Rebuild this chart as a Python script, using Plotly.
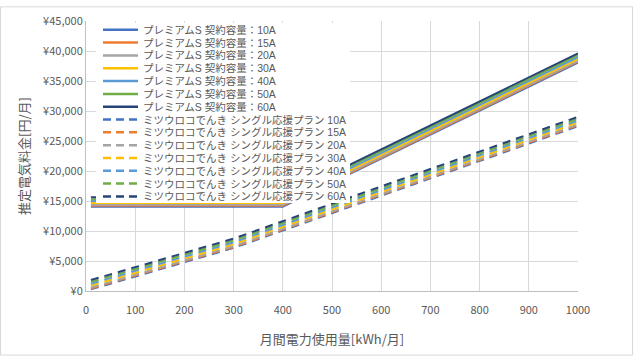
import plotly.graph_objects as go

# ---- data ----
usage_kwh = [10, 100, 200, 300, 400, 500, 600, 700, 800, 900, 1000]

premium_labels = ["プレミアムS 契約容量：10A", "プレミアムS 契約容量：15A", "プレミアムS 契約容量：20A",
                  "プレミアムS 契約容量：30A", "プレミアムS 契約容量：40A", "プレミアムS 契約容量：50A",
                  "プレミアムS 契約容量：60A"]
premium_10A = [14050, 14050, 14050, 14050, 14050, 18050, 22050, 26050, 30050, 34050, 38050]
premium_15A = [14206, 14206, 14206, 14206, 14206, 18206, 22206, 26206, 30206, 34206, 38206]
premium_20A = [14362, 14362, 14362, 14362, 14362, 18362, 22362, 26362, 30362, 34362, 38362]
premium_30A = [14674, 14674, 14674, 14674, 14674, 18674, 22674, 26674, 30674, 34674, 38674]
premium_40A = [14985, 14985, 14985, 14985, 14985, 18985, 22985, 26985, 30985, 34985, 38985]
premium_50A = [15297, 15297, 15297, 15297, 15297, 19297, 23297, 27297, 31297, 35297, 39297]
premium_60A = [15609, 15609, 15609, 15609, 15609, 19609, 23609, 27609, 31609, 35609, 39609]

single_labels = ["ミツウロコでんき シングル応援プラン 10A", "ミツウロコでんき シングル応援プラン 15A",
                 "ミツウロコでんき シングル応援プラン 20A", "ミツウロコでんき シングル応援プラン 30A",
                 "ミツウロコでんき シングル応援プラン 40A", "ミツウロコでんき シングル応援プラン 50A",
                 "ミツウロコでんき シングル応援プラン 60A"]
single_10A = [270, 2412, 4792, 7172, 10072, 12972, 15872, 18772, 21672, 24572, 27472]
single_15A = [426, 2568, 4948, 7328, 10228, 13128, 16028, 18928, 21828, 24728, 27628]
single_20A = [582, 2724, 5104, 7484, 10384, 13284, 16184, 19084, 21984, 24884, 27784]
single_30A = [894, 3036, 5416, 7796, 10696, 13596, 16496, 19396, 22296, 25196, 28096]
single_40A = [1205, 3347, 5727, 8107, 11007, 13907, 16807, 19707, 22607, 25507, 28407]
single_50A = [1517, 3659, 6039, 8419, 11319, 14219, 17119, 20019, 22919, 25819, 28719]
single_60A = [1829, 3971, 6351, 8731, 11631, 14531, 17431, 20331, 23231, 26131, 29031]

y_ticks = [0, 5000, 10000, 15000, 20000, 25000, 30000, 35000, 40000, 45000]
y_tick_labels = ["¥0", "¥5,000", "¥10,000", "¥15,000", "¥20,000", "¥25,000", "¥30,000",
                 "¥35,000", "¥40,000", "¥45,000"]
x_ticks = [0, 100, 200, 300, 400, 500, 600, 700, 800, 900, 1000]

colors = ["#4472C4", "#ED7D31", "#A5A5A5", "#FFC000", "#5B9BD5", "#70AD47", "#264478"]

premium_series = [premium_10A, premium_15A, premium_20A, premium_30A, premium_40A, premium_50A, premium_60A]
single_series = [single_10A, single_15A, single_20A, single_30A, single_40A, single_50A, single_60A]

FONT = "Noto Sans CJK JP, Noto Sans, sans-serif"
LEG_FONT = "Liberation Sans, Noto Sans CJK JP, sans-serif"
TXT = "#595959"
GRID = "#D9D9D9"

W, H = 633, 357
L, R, T, B = 86, 578, 15, 291  # plot area in pixels

def px2x(px):
    return (px - L) / (R - L)

def py2y(py):
    return (B - py) / (B - T)

fig = go.Figure()
for name, ys, c in zip(premium_labels, premium_series, colors):
    fig.add_trace(go.Scatter(x=usage_kwh, y=ys, name=name, mode="lines",
                             line=dict(color=c, width=2)))
for name, ys, c in zip(single_labels, single_series, colors):
    fig.add_trace(go.Scatter(x=usage_kwh, y=ys, name=name, mode="lines",
                             line=dict(color=c, width=2, dash="8px,6px")))

shapes = []
annotations = []
# chart border
shapes.append(dict(type="rect", xref="paper", yref="paper",
                   x0=px2x(0.5), x1=px2x(632.5), y0=py2y(356.5), y1=py2y(0.5),
                   line=dict(color="#D9D9D9", width=1), fillcolor="rgba(0,0,0,0)", layer="below"))
# legend box (white, covering the data)
shapes.append(dict(type="rect", xref="paper", yref="paper",
                   x0=px2x(96), x1=px2x(350), y0=py2y(201), y1=py2y(17),
                   line=dict(width=0), fillcolor="white", layer="above"))
labels = premium_labels + single_labels
for i, lab in enumerate(labels):
    yy = 24 + 13.1 * i
    c = colors[i % 7]
    dash = "solid" if i < 7 else "8px,5px"
    shapes.append(dict(type="line", xref="paper", yref="paper",
                       x0=px2x(103), x1=px2x(138), y0=py2y(yy), y1=py2y(yy),
                       line=dict(color=c, width=2.5, dash=dash), layer="above"))
    annotations.append(dict(text=lab, xref="paper", yref="paper", x=px2x(142), y=py2y(yy),
                            xanchor="left", yanchor="middle", showarrow=False, borderpad=0,
                            font=dict(family=LEG_FONT, size=10.5, color=TXT)))

fig.update_layout(
    width=W, height=H,
    margin=dict(l=L, r=W - R, t=T, b=H - B, pad=0),
    paper_bgcolor="white", plot_bgcolor="white",
    showlegend=False,
    font=dict(family=FONT, size=11, color=TXT),
    shapes=shapes, annotations=annotations,
    xaxis=dict(range=[0, 1000], tickvals=x_ticks, showgrid=True, gridcolor=GRID, gridwidth=1,
               showline=True, linecolor="#BFBFBF", linewidth=1, zeroline=False, ticks="",
               ticklabelstandoff=9,
               tickfont=dict(family=FONT, size=11, color=TXT),
               title=dict(text="月間電力使用量[kWh/月]", font=dict(family=FONT, size=13, color=TXT), standoff=18)),
    yaxis=dict(range=[0, 45000], tickvals=y_ticks, ticktext=y_tick_labels,
               showgrid=True, gridcolor=GRID, gridwidth=1,
               showline=True, linecolor="#BFBFBF", linewidth=1, zeroline=False, ticks="",
               tickfont=dict(family=FONT, size=11, color=TXT),
               title=dict(text="推定電気料金[円/月]", font=dict(family=FONT, size=13, color=TXT), standoff=10)),
)

fig.write_html("out.html", config={"displayModeBar": False},
               post_script="document.body.style.margin='0';")
